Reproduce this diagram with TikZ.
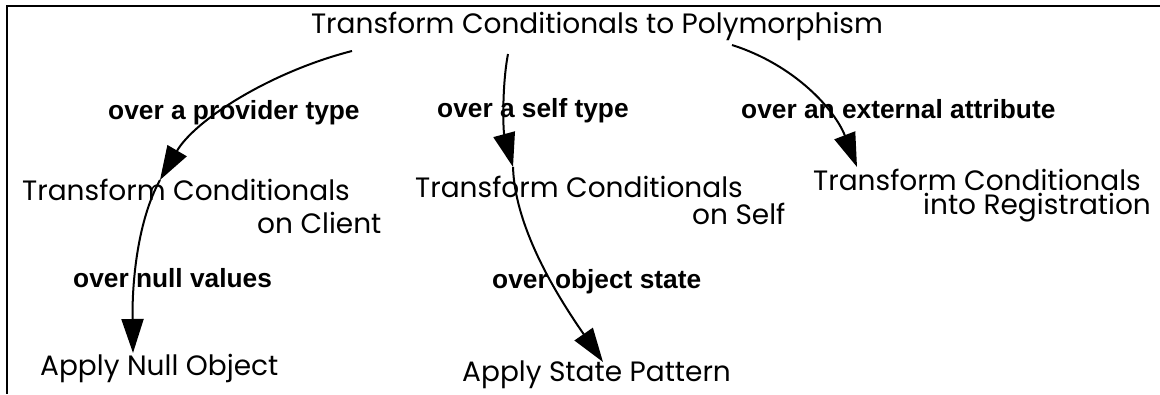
\documentclass[tikz,border=0pt]{standalone}
\usepackage{fontspec}
\setmainfont{Poppins}
\newfontfamily\labelfont{Liberation Sans}
\usetikzlibrary{arrows.meta,calc}

\newcommand\tightlines{\lineskiplimit=-30pt\relax}

\tikzset{
  refac/.style={inner sep=0pt, anchor=base west, align=left},
  viatext/.style={inner sep=0pt, anchor=base west,
    font=\labelfont\bfseries\fontsize{26.3pt}{30pt}\selectfont},
}

\begin{document}
\begin{tikzpicture}[x=1pt,y=-1pt]
		\useasboundingbox (0,0) rectangle (1160,394);
		\draw[line width=2.5pt] (1160,6) -- (7,6) -- (7,394);

		% base anchor of a two-line node is the baseline of its last line
		\begin{scope}[every node/.style={refac,font=\fontsize{28pt}{33pt}\selectfont}]
			\node[anchor=base] (poly) at (597,33) {Transform Conditionals to Polymorphism};

			\node (client) at (22,233) {Transform Conditionals\\\hspace*{235pt}on Client};
			\node[font=\fontsize{28pt}{27pt}\selectfont] (self) at (415,224) {Transform Conditionals\\\hspace*{277pt}on Self};
			\node[font={\fontsize{28pt}{23.5pt}\selectfont\tightlines}] (registr) at (813,214) {Transform Conditionals\\\hspace*{110pt}into Registration};

			\node (nullobj) at (40,375) {Apply Null Object};
			\node (state) at (462,381) {Apply State Pattern};
		\end{scope}

		\begin{scope}[every node/.style={viatext}]
			\node (provider) at (108,119) {over a provider type};
			\node (selftype) at (437,117) {over a self type};
			\node (external) at (741,118) {over an external attribute};
			\node (nullval) at (73,287) {over null values};
			\node (objstate) at (492,288) {over object state};
		\end{scope}

		\begin{scope}[>={Triangle[length=34pt,width=22pt]}, line width=2pt]
			\draw [->] ($(poly.base)+(-245,18)$) .. controls +(-82,21) and +(35,-60) .. ($(client.base west)+(138,-53)$);
			\draw [->] ($(client.base west)+(138,-53)$) .. controls +(-22,40) and +(-1,-73) .. ($(nullobj.base west)+(93,-22)$);

			\draw [->] ($(poly.base)+(-89,21)$) .. controls +(-6,31) and +(-10,-37) .. ($(self.base west)+(98,-57)$);
			\draw [->] ($(self.base west)+(98,-57)$) .. controls +(2,63) and +(-43,-62) .. ($(state.base west)+(141,-19)$);

			\draw [->] ($(poly.base)+(135,12)$) .. controls +(63,20) and +(-22,-57) .. ($(registr.base west)+(44,-47)$);
		\end{scope}
\end{tikzpicture}
\end{document}
